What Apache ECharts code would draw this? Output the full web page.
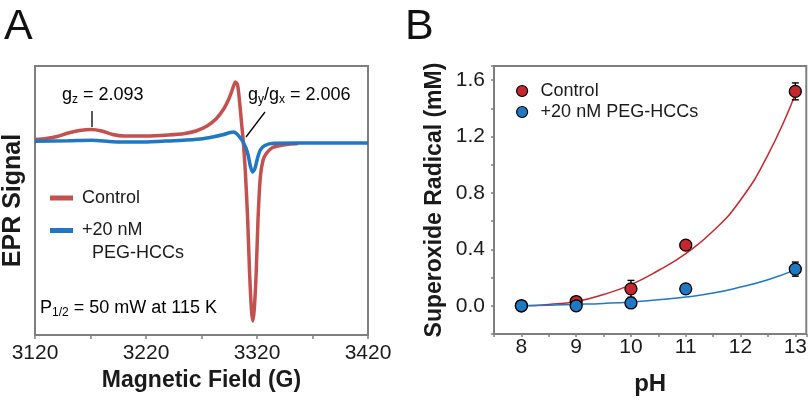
<!DOCTYPE html>
<html>
<head>
<meta charset="utf-8">
<script src="https://cdn.jsdelivr.net/npm/echarts@6/dist/echarts.min.js"></script>
<style>html,body{margin:0;padding:0;background:#fff}#c{width:810px;height:401px}</style>
</head>
<body>
<div id="c"></div>
<script>
// ---------- Panel A: EPR spectra ----------
const eprControlField = [3120,3130,3140,3150,3160,3171,3180,3190,3200,3220,3240,3255,3265,3275,3283,3290,3295,3298,3300.5,3302.5,3304.5,3306,3307.7,3309.5,3311.5,3313.3,3315,3316.2,3317.5,3319.3,3320.9,3323,3325.5,3328.7,3334,3341,3350,3357];
const eprControlSignal = [2.4,3.5,5.5,9,11.5,12.5,11,7.5,6,6,7,8.5,11,16,23,33,44,53,60,57,38,20,0,-30,-75,-130,-168,-179,-168,-130,-78,-35,-18,-11,-5.5,-3.5,-2,-1.5];
const eprPegField = [3120,3150,3171,3190,3215,3235,3250,3269,3280,3290,3296,3299,3302,3305,3307.5,3310,3312,3314,3316,3318,3320.5,3323,3327,3335,3360,3420];
const eprPegSignal = [0.7,1.2,1.8,0.3,0,0.8,1.5,3,5,7.5,9.5,10,8,4,0,-6,-13,-24,-30,-27,-16,-8,-3.5,-1.2,-1,-1];
const fieldTicks = [3120,3220,3320,3420];

// ---------- Panel B: superoxide vs pH ----------
const pH = [8,9,10,11,13];
const controlMean = [0.00,0.03,0.12,0.43,1.52];
const controlErr  = [0.02,0.02,0.06,0.02,0.06];
const pegMean = [0.00,0.00,0.02,0.12,0.26];
const pegErr  = [0.02,0.02,0.02,0.02,0.05];
const fitPH = [8,8.5,9,9.5,10,10.5,11,11.5,12,12.5,13];
const fitControl = [0,0.01,0.03,0.08,0.15,0.25,0.37,0.53,0.75,1.07,1.50];
const fitPeg = [0,0.004,0.01,0.017,0.027,0.042,0.062,0.09,0.133,0.185,0.255];

const FONT = '"Liberation Sans", Arial, sans-serif';
const RED_A = '#c2514f', BLUE_A = '#1f78c1';
const RED_B = '#c4282f', BLUE_B = '#1f78c4';
const FRAME = '#7f7f7f', TXT = '#1a1a1a';
const F0 = fieldTicks[0];

function errBars(means, errs) {
  return {
    type: 'custom', xAxisIndex: 1, yAxisIndex: 1, z: 3,
    data: pH.map((x, i) => [x, means[i], errs[i]]),
    encode: {x: 0, y: 1},
    renderItem: function (params, api) {
      const x = api.value(0), y = api.value(1), e = api.value(2);
      const t = api.coord([x, y + e]), b = api.coord([x, y - e]);
      const w = 3.5, st = {stroke: '#000', lineWidth: 1.4};
      return {type: 'group', children: [
        {type: 'line', shape: {x1: t[0], y1: t[1], x2: b[0], y2: b[1]}, style: st},
        {type: 'line', shape: {x1: t[0]-w, y1: t[1], x2: t[0]+w, y2: t[1]}, style: st},
        {type: 'line', shape: {x1: b[0]-w, y1: b[1], x2: b[0]+w, y2: b[1]}, style: st}
      ]};
    }
  };
}

const chart = echarts.init(document.getElementById('c'));
const subRich = {
  n: {fontSize: 18, fontFamily: FONT, color: TXT},
  s: {fontSize: 12, fontFamily: FONT, color: TXT, padding: [10, 0, 0, 0]}
};
chart.setOption({
  animation: false,
  textStyle: {fontFamily: FONT},
  grid: [
    {left: 35, top: 66, width: 333, height: 269, show: true, borderColor: FRAME, borderWidth: 2},
    {left: 494, top: 66, width: 314, height: 269, show: true, borderColor: FRAME, borderWidth: 2}
  ],
  xAxis: [
    {type: 'value', gridIndex: 0, min: 0, max: fieldTicks[3] - F0, interval: 50,
     axisLine: {onZero: false, lineStyle: {color: FRAME, width: 2}},
     axisTick: {length: 4, lineStyle: {color: FRAME, width: 1.5}},
     axisLabel: {margin: 8, fontSize: 21, color: TXT, fontFamily: FONT,
       formatter: v => (fieldTicks.indexOf(v + F0) >= 0 ? String(v + F0) : '')},
     splitLine: {show: false},
     name: 'Magnetic Field (G)', nameLocation: 'middle', nameGap: 34,
     nameTextStyle: {fontSize: 23, fontWeight: 'bold', color: TXT, fontFamily: FONT}},
    {type: 'value', gridIndex: 1, min: 7.5, max: 13.2, interval: 0.5,
     axisLine: {onZero: false, lineStyle: {color: FRAME, width: 2}},
     axisTick: {length: 3, lineStyle: {color: FRAME, width: 1.5}},
     axisLabel: {margin: 3, fontSize: 21, color: TXT, fontFamily: FONT,
       formatter: v => (Math.abs(v - Math.round(v)) < 1e-6 ? String(Math.round(v)) : '')},
     splitLine: {show: false},
     name: 'pH', nameLocation: 'middle', nameGap: 38,
     nameTextStyle: {fontSize: 24, fontWeight: 'bold', color: TXT, fontFamily: FONT}}
  ],
  yAxis: [
    {type: 'value', gridIndex: 0, min: -193, max: 76,
     axisLine: {show: false, onZero: false}, axisTick: {show: false}, axisLabel: {show: false}, splitLine: {show: false},
     name: 'EPR Signal', nameLocation: 'middle', nameGap: 9, nameRotate: 90,
     nameTextStyle: {fontSize: 25, fontWeight: 'bold', color: TXT, fontFamily: FONT}},
    {type: 'value', gridIndex: 1, min: -0.2, max: 1.7, interval: 0.2,
     axisLine: {onZero: false, lineStyle: {color: FRAME, width: 2}},
     axisTick: {length: 3, lineStyle: {color: FRAME, width: 1.5}},
     axisLabel: {margin: 9, fontSize: 21, color: TXT, fontFamily: FONT,
       formatter: v => { const r = Math.round(v * 10); return r % 4 === 0 ? (r / 10).toFixed(1) : ''; }},
     splitLine: {show: false},
     name: 'Superoxide Radical (mM)', nameLocation: 'middle', nameGap: 48, nameRotate: 90,
     nameTextStyle: {fontSize: 23, fontWeight: 'bold', color: TXT, fontFamily: FONT}}
  ],
  legend: [
    {data: ['Control'], left: 45, top: 182, icon: 'rect', itemWidth: 23, itemHeight: 5,
     textStyle: {fontSize: 18, lineHeight: 22, color: TXT, fontFamily: FONT, padding: [0, 0, 0, 4]}},
    {data: ['+20 nM PEG-HCCs'], left: 45, top: 191, icon: 'rect', itemWidth: 23, itemHeight: 5,
     formatter: () => ' \n+20 nM\n  PEG-HCCs',
     textStyle: {fontSize: 18, lineHeight: 23, color: TXT, fontFamily: FONT, padding: [0, 0, 0, 4]}},
    {data: [
       {name: 'Control', icon: 'circle', itemStyle: {color: RED_B, borderColor: '#000', borderWidth: 1.2}},
       {name: '+20 nM PEG-HCCs', icon: 'circle', itemStyle: {color: BLUE_B, borderColor: '#000', borderWidth: 1.2}}
     ],
     orient: 'vertical', left: 511, top: 76, itemWidth: 11, itemHeight: 11, itemGap: 1,
     textStyle: {fontSize: 18, lineHeight: 20, color: TXT, fontFamily: FONT, padding: [0, 0, 0, 8]}}
  ],
  series: [
    {name: 'Control', type: 'line', xAxisIndex: 0, yAxisIndex: 0, showSymbol: false, smooth: 0.25,
     lineStyle: {color: RED_A, width: 3.5}, itemStyle: {color: RED_A}, z: 2,
     data: eprControlField.map((g, i) => [g - F0, eprControlSignal[i]])},
    {name: '+20 nM PEG-HCCs', type: 'line', xAxisIndex: 0, yAxisIndex: 0, showSymbol: false, smooth: 0.25,
     lineStyle: {color: BLUE_A, width: 3.5}, itemStyle: {color: BLUE_A}, z: 3,
     data: eprPegField.map((g, i) => [g - F0, eprPegSignal[i]])},
    {name: 'Control', type: 'line', xAxisIndex: 1, yAxisIndex: 1, showSymbol: false, smooth: true,
     lineStyle: {color: RED_B, width: 1.5}, z: 2,
     data: fitPH.map((x, i) => [x, fitControl[i]])},
    {name: '+20 nM PEG-HCCs', type: 'line', xAxisIndex: 1, yAxisIndex: 1, showSymbol: false, smooth: true,
     lineStyle: {color: BLUE_B, width: 1.5}, z: 2,
     data: fitPH.map((x, i) => [x, fitPeg[i]])},
    errBars(controlMean, controlErr),
    errBars(pegMean, pegErr),
    {name: 'Control', type: 'scatter', xAxisIndex: 1, yAxisIndex: 1, symbolSize: 12, z: 4,
     itemStyle: {color: RED_B, borderColor: '#000', borderWidth: 1.3, opacity: 1},
     data: pH.map((x, i) => [x, controlMean[i]])},
    {name: '+20 nM PEG-HCCs', type: 'scatter', xAxisIndex: 1, yAxisIndex: 1, symbolSize: 12, z: 5,
     itemStyle: {color: BLUE_B, borderColor: '#000', borderWidth: 1.3, opacity: 1},
     data: pH.map((x, i) => [x, pegMean[i]])}
  ],
  graphic: [
    {type: 'text', x: 4, y: 27, style: {text: 'A', fontSize: 43, fontFamily: FONT, fill: '#111', textVerticalAlign: 'middle'}},
    {type: 'text', x: 405, y: 27, style: {text: 'B', fontSize: 43, fontFamily: FONT, fill: '#111', textVerticalAlign: 'middle'}},
    {type: 'text', x: 62, y: 95, style: {text: '{n|g}{s|z}{n| = 2.093}', rich: subRich, textVerticalAlign: 'middle'}},
    {type: 'line', shape: {x1: 92, y1: 111, x2: 92, y2: 127}, style: {stroke: '#000', lineWidth: 1.3}},
    {type: 'text', x: 248, y: 95, style: {text: '{n|g}{s|y}{n|/g}{s|x}{n| = 2.006}', rich: subRich, textVerticalAlign: 'middle'}},
    {type: 'line', shape: {x1: 265, y1: 112, x2: 246, y2: 137}, style: {stroke: '#000', lineWidth: 1.3}},
    {type: 'text', x: 40, y: 308, style: {text: '{n|P}{s|1/2}{n| = 50 mW at 115 K}', rich: subRich, textVerticalAlign: 'middle'}}
  ]
});
</script>
</body>
</html>
